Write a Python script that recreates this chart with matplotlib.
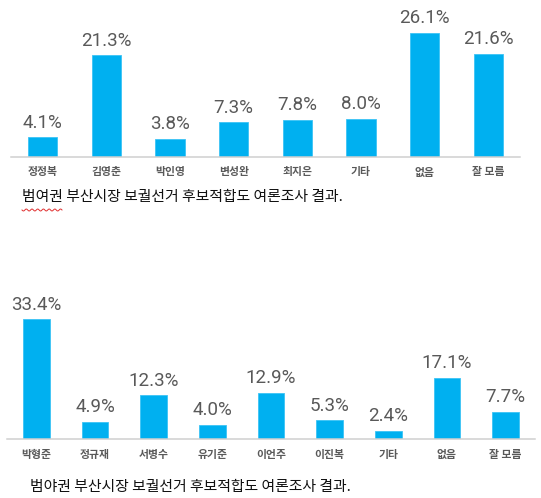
import numpy as np
import matplotlib
matplotlib.use("Agg")
import matplotlib.pyplot as plt
from matplotlib.lines import Line2D

# ---- data ----
top_categories = ["정정복", "김영춘", "박인영", "변성완", "최지은", "기타", "없음", "잘 모름"]
top_values = [4.1, 21.3, 3.8, 7.3, 7.8, 8.0, 26.1, 21.6]
top_caption = "범여권 부산시장 보궐선거 후보적합도 여론조사 결과."

bottom_categories = ["박형준", "정규재", "서병수", "유기준", "이언주", "이진복", "기타", "없음", "잘 모름"]
bottom_values = [33.4, 4.9, 12.3, 4.0, 12.9, 5.3, 2.4, 17.1, 7.7]
bottom_caption = "범야권 부산시장 보궐선거 후보적합도 여론조사 결과."

W, H = 541, 498
BAR = "#00B0F0"
TXT = "#595959"
KFONT = ["Noto Sans CJK KR", "DejaVu Sans"]
NFONT = ["Roboto", "DejaVu Sans"]

fig = plt.figure(figsize=(W / 100, H / 100), dpi=100)
fig.patch.set_facecolor("white")


def px_axes(x0, x1, ybase, height_px):
    return fig.add_axes([x0 / W, (H - ybase) / H, (x1 - x0) / W, height_px / H])


def draw(ax, cats, vals, ymax, width):
    x = np.arange(len(cats))
    ax.bar(x, vals, width=width, color=BAR, edgecolor="#3cc3f5", linewidth=0.6)
    ax.set_xlim(-0.5, len(cats) - 0.5)
    ax.set_ylim(0, ymax)
    for s in ["top", "left", "right"]:
        ax.spines[s].set_visible(False)
    ax.spines["bottom"].set_color("#d0d0d0")
    ax.spines["bottom"].set_linewidth(1.1)
    ax.set_yticks([])
    ax.set_xticks(x)
    ax.set_xticklabels(cats, family=KFONT, fontsize=7.8, color=TXT, fontweight="bold")
    ax.tick_params(axis="x", length=0, pad=7.5)
    for xi, v in zip(x, vals):
        ax.annotate(f"{v:.1f}%", (xi, v), xytext=(0, 4.0), textcoords="offset points",
                    ha="center", va="bottom", fontsize=13.5, family=NFONT,
                    color=TXT, annotation_clip=False)
    ax.patch.set_alpha(0)


ax1 = px_axes(11, 520, 157, 30 * 4.77)
draw(ax1, top_categories, top_values, 30, 0.46)

ax2 = px_axes(7, 535, 439.3, 36 * 3.59)
draw(ax2, bottom_categories, bottom_values, 36, 0.46)

fig.text(22 / W, 1 - 197 / H, top_caption, family=KFONT, fontsize=10.7,
         color="#111111", ha="left", va="center")
fig.text(30 / W, 1 - 486.5 / H, bottom_caption, family=KFONT, fontsize=10.7,
         color="#111111", ha="left", va="center")

# spell-check squiggle under first word of top caption (decoration)
sx = np.linspace(22, 62, 60)
sy = 210 + 1.0 * np.sin((sx - 22) / 40 * 2 * np.pi * 7)
fig.add_artist(Line2D(sx / W, 1 - sy / H, transform=fig.transFigure,
                      color="#e03030", linewidth=0.7))

fig.savefig("out.png", dpi=100, facecolor="white")
